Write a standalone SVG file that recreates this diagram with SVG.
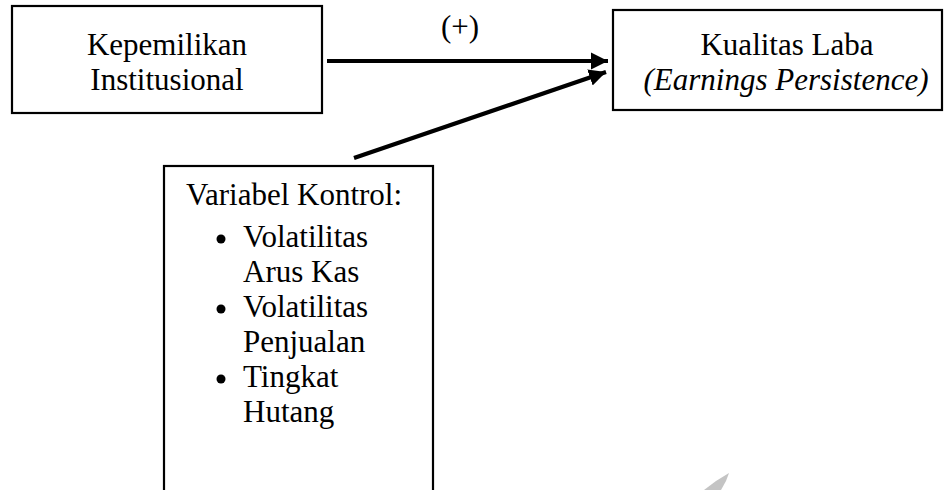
<svg xmlns="http://www.w3.org/2000/svg" width="950" height="490" viewBox="0 0 950 490">
<style>
.box{fill:#fff;stroke:#000;stroke-width:2.2}
.t{font-family:"Liberation Serif","Times New Roman",serif;font-size:31px;fill:#000}
.c{text-anchor:middle}
.conn{stroke:#000;stroke-width:4.2;fill:none}
</style>
<defs>
<marker id="ah" markerUnits="userSpaceOnUse" markerWidth="18" markerHeight="18" viewBox="0 0 18 18" refX="17" refY="9" orient="auto">
<path d="M0,0.5 L17,9 L0,17.5 Z" fill="#000"/>
</marker>
</defs>
<rect width="950" height="490" fill="#fff"/>
<g id="node-kepemilikan">
<rect class="box" x="12" y="6" width="310" height="107"/>
<text class="t c" x="167" y="55">Kepemilikan</text>
<text class="t c" x="167" y="90">Institusional</text>
</g>
<g id="node-kualitas">
<rect class="box" x="613" y="10" width="329" height="100"/>
<text class="t c" x="787" y="55">Kualitas Laba</text>
<text class="t c" x="786" y="90" font-style="italic">(Earnings Persistence)</text>
</g>
<g id="node-kontrol">
<rect class="box" x="164" y="166" width="269" height="340"/>
<text class="t" x="186" y="205">Variabel Kontrol:</text>
<circle cx="221" cy="239" r="4.5"/>
<text class="t" x="243" y="247">Volatilitas</text>
<text class="t" x="243" y="282">Arus Kas</text>
<circle cx="221" cy="309" r="4.5"/>
<text class="t" x="243" y="317">Volatilitas</text>
<text class="t" x="243" y="352">Penjualan</text>
<circle cx="221" cy="379" r="4.5"/>
<text class="t" x="243" y="387">Tingkat</text>
<text class="t" x="243" y="422">Hutang</text>
</g>
<g id="connectors">
<line class="conn" x1="327" y1="61" x2="608" y2="61" marker-end="url(#ah)"/>
<line class="conn" x1="354" y1="158" x2="606" y2="72" marker-end="url(#ah)"/>
<text class="t c" x="460" y="37">(+)</text>
</g>
<polygon points="729,473 726,481 721,490 704,490 716,481" fill="#c4c4c4"/>
</svg>
